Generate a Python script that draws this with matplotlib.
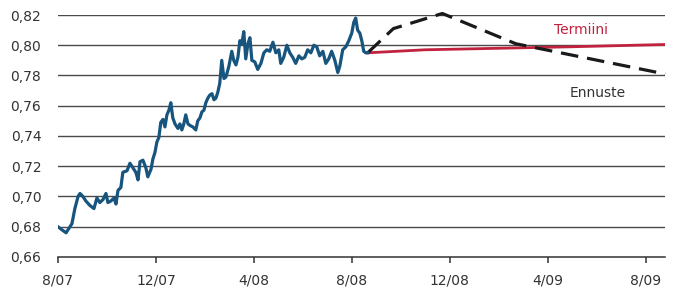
import matplotlib
matplotlib.use("Agg")
import matplotlib.pyplot as plt

# months since Aug 2007
blue_m = [0.00, 0.16, 0.33, 0.45, 0.57, 0.69, 0.82, 0.90, 1.02, 1.14, 1.31, 1.47, 1.59, 1.71,
          1.84, 1.96, 2.04, 2.16, 2.29, 2.37, 2.45, 2.57, 2.65, 2.82, 2.94, 3.06, 3.18, 3.27,
          3.35, 3.47, 3.59, 3.67, 3.80, 3.88, 3.96, 4.04, 4.12, 4.20, 4.29, 4.37, 4.45, 4.53,
          4.61, 4.69, 4.78, 4.90, 4.98, 5.06, 5.14, 5.22, 5.31, 5.39, 5.51, 5.63, 5.71, 5.80,
          5.88, 5.96, 6.04, 6.12, 6.20, 6.29, 6.37, 6.45, 6.53, 6.61, 6.69, 6.78, 6.86, 6.98,
          7.10, 7.18, 7.27, 7.35, 7.43, 7.51, 7.59, 7.67, 7.76, 7.84, 7.92, 8.04, 8.16, 8.29,
          8.41, 8.53, 8.65, 8.78, 8.90, 9.02, 9.10, 9.22, 9.35, 9.47, 9.59, 9.71, 9.84, 9.96,
          10.08, 10.20, 10.33, 10.45, 10.57, 10.69, 10.82, 10.94, 11.06, 11.18, 11.31, 11.43,
          11.51, 11.63, 11.76, 11.88, 12.00, 12.08, 12.16, 12.24, 12.33, 12.41, 12.49, 12.57,
          12.65]
blue_v = [0.680, 0.678, 0.676, 0.679, 0.682, 0.692, 0.700, 0.702, 0.700, 0.697, 0.694, 0.692,
          0.699, 0.696, 0.698, 0.702, 0.696, 0.697, 0.699, 0.695, 0.704, 0.706, 0.716, 0.717,
          0.722, 0.719, 0.716, 0.711, 0.723, 0.724, 0.719, 0.713, 0.718, 0.725, 0.729, 0.736,
          0.739, 0.749, 0.751, 0.746, 0.754, 0.757, 0.762, 0.752, 0.748, 0.745, 0.748, 0.744,
          0.748, 0.754, 0.748, 0.747, 0.746, 0.744, 0.750, 0.752, 0.756, 0.757, 0.762, 0.765,
          0.767, 0.768, 0.764, 0.765, 0.769, 0.775, 0.790, 0.778, 0.779, 0.786, 0.796, 0.790,
          0.787, 0.792, 0.803, 0.801, 0.809, 0.791, 0.801, 0.805, 0.790, 0.789, 0.784, 0.788,
          0.795, 0.797, 0.796, 0.802, 0.795, 0.797, 0.788, 0.792, 0.800, 0.795, 0.792, 0.788,
          0.793, 0.791, 0.792, 0.797, 0.795, 0.800, 0.799, 0.793, 0.796, 0.788, 0.791, 0.796,
          0.790, 0.782, 0.786, 0.797, 0.799, 0.803, 0.808, 0.815, 0.818, 0.810, 0.808, 0.803,
          0.796, 0.795, 0.795]

termiini_m = [12.65, 15.0, 18.0, 21.0, 24.8]
termiini_v = [0.795, 0.797, 0.798, 0.799, 0.8005]

ennuste_m = [12.65, 13.7, 15.7, 18.7, 24.8]
ennuste_v = [0.795, 0.811, 0.821, 0.801, 0.781]

tick_m = [0, 4, 8, 12, 16, 20, 24]
tick_labels = ["8/07", "12/07", "4/08", "8/08", "12/08", "4/09", "8/09"]
y_ticks = [0.66, 0.68, 0.70, 0.72, 0.74, 0.76, 0.78, 0.80, 0.82]

BLUE = "#17557f"
RED = "#c1233f"
TXT = "#333333"

fig = plt.figure(figsize=(6.78, 2.93), dpi=100)
ax = fig.add_axes([0.0855, 0.1229, 0.8955, 0.8259])

for y in y_ticks[1:]:
    ax.axhline(y, color="#4a4a4a", lw=1.0, zorder=1)

ax.plot(blue_m, blue_v, color=BLUE, lw=2.3, zorder=3, solid_joinstyle="round")
ax.plot(termiini_m, termiini_v, color=RED, lw=2.0, zorder=2)
ax.plot(ennuste_m, ennuste_v, color="#1a1a1a", lw=2.3, dashes=(5.5, 2.8), zorder=2,
        clip_on=False)

ax.text(21.35, 0.810, "Termiini", color=RED, fontsize=10, ha="center", va="center")
ax.text(22.05, 0.7684, "Ennuste", color=TXT, fontsize=10, ha="center", va="center")

ax.set_xlim(0, 24.8)
ax.set_ylim(0.66, 0.82)
ax.set_xticks(tick_m, tick_labels)
ax.set_yticks(y_ticks, [f"{v:.2f}".replace(".", ",") for v in y_ticks])

for s in ["top", "right", "left"]:
    ax.spines[s].set_visible(False)
ax.spines["bottom"].set_color("#333333")
ax.spines["bottom"].set_linewidth(1.1)
ax.tick_params(axis="x", direction="out", length=4, width=1.1, color="#333333",
               pad=8, labelsize=10, labelcolor=TXT)
ax.tick_params(axis="y", length=0, pad=12, labelsize=10, labelcolor=TXT)

fig.savefig("out.png", dpi=100)
